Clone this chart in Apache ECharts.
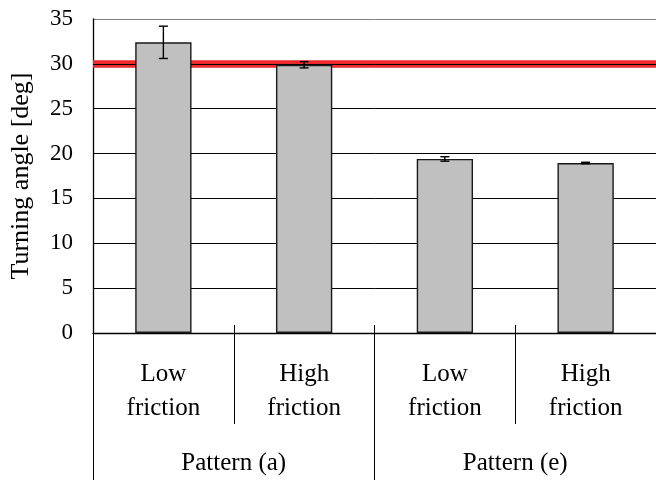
<!DOCTYPE html>
<html>
<head>
<meta charset="utf-8">
<script src="https://cdn.jsdelivr.net/npm/echarts@6/dist/echarts.min.js"></script>
<style>html,body{margin:0;padding:0;background:#fff}#c{width:656px;height:480px}</style>
</head>
<body>
<div id="c"></div>
<script>
const categories = ['Low\nfriction', 'High\nfriction', 'Low\nfriction', 'High\nfriction'];
const patterns = ['Pattern (a)', 'Pattern (e)'];
const means = [32.4, 29.9, 19.4, 18.95];
const errors = [1.8, 0.35, 0.25, 0.08];
const referenceAngle = 30;
const yTicks = [0, 5, 10, 15, 20, 25, 30, 35];

const FONT = 'Liberation Serif';
const chart = echarts.init(document.getElementById('c'), null, {renderer: 'canvas'});
const splitColors = yTicks.map((v, i) => i === yTicks.length - 1 ? '#7f7f7f' : '#000');

chart.setOption({
  animation: false,
  textStyle: {fontFamily: FONT, color: '#000'},
  grid: {left: 92, right: -2, top: 19, bottom: 147},
  xAxis: [
    {
      type: 'category', data: categories, position: 'bottom',
      axisLine: {show: true, lineStyle: {color: '#000', width: 1.3}},
      axisTick: {show: true, length: 91, lineStyle: {color: '#000', width: 1}},
      axisLabel: {fontFamily: FONT, fontSize: 25, color: '#000', lineHeight: 34, margin: 24, interval: 0},
      splitLine: {show: false}
    },
    {
      type: 'category', data: categories, position: 'bottom',
      axisLine: {show: false},
      axisTick: {show: true, inside: true, length: 8, lineStyle: {color: '#000', width: 1}},
      axisLabel: {show: false},
      splitLine: {show: false}
    },
    {
      type: 'category', data: patterns, position: 'bottom',
      axisLine: {show: false},
      axisTick: {show: true, length: 150, lineStyle: {color: '#000', width: 1}},
      axisLabel: {fontFamily: FONT, fontSize: 25, color: '#000', margin: 118, interval: 0},
      splitLine: {show: false}
    }
  ],
  yAxis: {
    type: 'value', min: 0, max: 35, interval: 5,
    name: 'Turning angle [deg]', nameLocation: 'middle', nameGap: 59,
    nameTextStyle: {fontFamily: FONT, fontSize: 26, color: '#000'},
    axisLine: {show: true, lineStyle: {color: '#000', width: 1.3}},
    axisTick: {show: false},
    axisLabel: {fontFamily: FONT, fontSize: 23, color: '#000', margin: 20},
    splitLine: {show: true, lineStyle: {color: splitColors, width: 1}}
  },
  series: [
    {
      type: 'bar', xAxisIndex: 0, data: means, barWidth: '40%', z: 3,
      itemStyle: {color: '#c0c0c0', borderColor: '#1a1a1a', borderWidth: 1.4},
      markLine: {
        z: 1, silent: true, symbol: ['none', 'none'], label: {show: false},
        data: [
          {yAxis: referenceAngle, lineStyle: {color: '#ee2a2e', width: 7.5, type: 'solid'}},
          {yAxis: referenceAngle, lineStyle: {color: '#000', width: 1, type: 'solid'}}
        ]
      }
    },
    {
      type: 'custom', xAxisIndex: 0, z: 4,
      data: means.map((m, i) => [i, m - errors[i], m + errors[i]]),
      renderItem: function (params, api) {
        const x = api.value(0);
        const lo = api.coord([x, api.value(1)]);
        const hi = api.coord([x, api.value(2)]);
        const hw = 4.5;
        const st = {stroke: '#000', lineWidth: 1.4};
        return {type: 'group', children: [
          {type: 'line', shape: {x1: lo[0], y1: lo[1], x2: hi[0], y2: hi[1]}, style: st},
          {type: 'line', shape: {x1: lo[0] - hw, y1: lo[1], x2: lo[0] + hw, y2: lo[1]}, style: st},
          {type: 'line', shape: {x1: hi[0] - hw, y1: hi[1], x2: hi[0] + hw, y2: hi[1]}, style: st}
        ]};
      }
    }
  ]
});
</script>
</body>
</html>
